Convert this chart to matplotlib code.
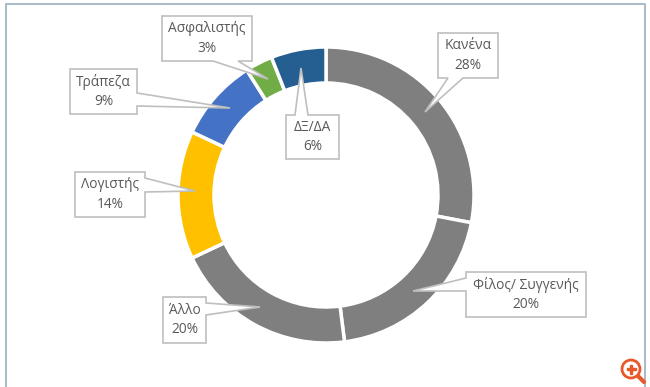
import matplotlib
matplotlib.use('Agg')
import matplotlib.pyplot as plt
from matplotlib.patches import Polygon, Circle, Rectangle

WIDTH = 650
HEIGHT = 387

categories = ['Κανένα', 'Φίλος/ Συγγενής', 'Άλλο', 'Λογιστής', 'Τράπεζα', 'Ασφαλιστής', 'ΔΞ/ΔΑ']
values = [28, 20, 20, 14, 9, 3, 6]
colors = ['#7f7f7f', '#7f7f7f', '#7f7f7f', '#ffc000', '#4472c4', '#70ad47', '#255e91']

# callout layout in pixels from the top left: box (x0, y0, x1, y1), pointer base, tip
boxes = [(438, 33, 498, 78), (466, 272, 586, 317), (163, 297, 206, 343),
         (75, 172, 145, 217), (70, 69, 137, 114), (162, 16, 252, 61), (286, 115, 339, 159)]
pointer_sides = ['bottom', 'left', 'right', 'right', 'right', 'bottom', 'top']
pointer_bases = [(448, 463), (278, 291), (303, 315), (178, 192), (93, 106), (213, 238), (295, 308)]
pointer_tips = [(425, 112), (413, 291), (260, 307), (195, 191), (230, 108), (268, 79), (301, 68)]

plt.rcParams['font.family'] = ['Open Sans', 'DejaVu Sans']


def py(y):
    return HEIGHT - y


def callout_outline(box, side, base, tip):
    x0, y0, x1, y1 = box
    a, b = base
    if side == 'bottom':
        pts = [(x0, y0), (x1, y0), (x1, y1), (b, y1), tip, (a, y1), (x0, y1)]
    elif side == 'top':
        pts = [(x0, y0), (a, y0), tip, (b, y0), (x1, y0), (x1, y1), (x0, y1)]
    elif side == 'left':
        pts = [(x0, y0), (x1, y0), (x1, y1), (x0, y1), (x0, b), tip, (x0, a)]
    else:
        pts = [(x0, y0), (x1, y0), (x1, a), tip, (x1, b), (x1, y1), (x0, y1)]
    return [(x, py(y)) for x, y in pts]


fig = plt.figure(figsize=(WIDTH / 100, HEIGHT / 100), dpi=100)
ax = fig.add_axes([0, 0, 1, 1])

ax.pie(
    values,
    colors=colors,
    startangle=90,
    counterclock=False,
    center=(326, py(195)),
    radius=148,
    wedgeprops=dict(width=36, edgecolor='white', linewidth=2.5),
)
ax.set_xlim(0, WIDTH)
ax.set_ylim(0, HEIGHT)
ax.axis('off')

# outer frame of the page
ax.plot([6, 6, 645, 645], [0, py(4), py(4), 0], color='#a9bcc8', lw=1.5)

for i in range(len(categories)):
    outline = callout_outline(boxes[i], pointer_sides[i], pointer_bases[i], pointer_tips[i])
    ax.add_patch(Polygon(outline, closed=True, facecolor='white', edgecolor='#bfbfbf', lw=1.2, zorder=3))
    x0, y0, x1, y1 = boxes[i]
    ax.text((x0 + x1) / 2, py((y0 + y1) / 2), f'{categories[i]}\n{values[i]}%',
            ha='center', va='center', fontsize=9.9, color='#595959', linespacing=1.4, zorder=4)

# zoom icon in the corner
ICON = '#e8582a'
ax.plot([638, 644], [py(376), py(382)], color=ICON, lw=3, solid_capstyle='round', zorder=5)
ax.add_patch(Circle((631, py(369)), 9, facecolor='white', edgecolor=ICON, lw=2, zorder=5))
ax.add_patch(Rectangle((626.5, py(370)), 9, 2.4, color=ICON, zorder=6))
ax.add_patch(Rectangle((629.8, py(373.5)), 2.4, 9, color=ICON, zorder=6))

fig.savefig('out.png', dpi=100)
